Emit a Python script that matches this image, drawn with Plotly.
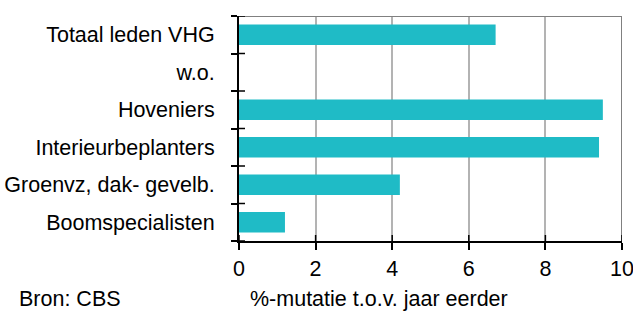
import plotly.graph_objects as go

categories = ["Totaal leden VHG", "w.o.", "Hoveniers", "Interieurbeplanters",
              "Groenvz, dak- gevelb.", "Boomspecialisten"]
values = [6.7, None, 9.5, 9.4, 4.2, 1.2]
x_ticks = [0, 2, 4, 6, 8, 10]
x_title = "%-mutatie t.o.v. jaar eerder"
source = "Bron: CBS"

FONT = "Liberation Sans, Arial, sans-serif"
FS = 21.5
W, H = 633, 312
L, R, T, B = 239, 11, 16, 71
pw = W - L - R
ph = H - T - B

n = len(categories)
y_pos = list(range(n))
bounds = [i - 0.5 for i in range(n + 1)]
x_min, x_max = x_ticks[0], x_ticks[-1]
y_top, y_bot = bounds[0], bounds[-1]

fig = go.Figure()
fig.add_trace(go.Bar(
    x=values, y=y_pos, orientation="h",
    marker=dict(color="#1FBBC6", line=dict(width=0)),
    width=0.55, hovertext=categories, hoverinfo="x+text",
))

# grey frame on top and right side of the plot area
fig.add_trace(go.Scatter(
    x=[x_min, x_max, x_max], y=[y_top, y_top, y_bot], mode="lines",
    line=dict(color="#808080", width=2), cliponaxis=False,
    hoverinfo="skip", showlegend=False,
))

# inner halves of the crossing tick marks
dy = 6 / ph * (y_bot - y_top)
dx = 6 / pw * (x_max - x_min)
tx, ty = [], []
for v in x_ticks:
    tx += [v, v, None]
    ty += [y_bot, y_bot - dy, None]
for b in bounds:
    tx += [x_min, x_min + dx, None]
    ty += [b, b, None]
fig.add_trace(go.Scatter(
    x=tx, y=ty, mode="lines", line=dict(color="black", width=1.5),
    cliponaxis=False, hoverinfo="skip", showlegend=False,
))

fig.update_layout(
    width=W, height=H,
    margin=dict(l=L, r=R, t=T, b=B, pad=0, autoexpand=False),
    paper_bgcolor="white", plot_bgcolor="white",
    font=dict(family=FONT, size=FS, color="black"),
    showlegend=False,
    xaxis=dict(
        range=[x_min, x_max], tickvals=x_ticks, ticks="outside", ticklen=7,
        tickwidth=1.5, tickcolor="black",
        showline=True, linecolor="black", linewidth=2,
        showgrid=True, gridcolor="#b3b3b3", gridwidth=2,
        zeroline=False, ticklabelstandoff=0,
        ticklabeloverflow="allow",
        tickfont=dict(size=FS, family=FONT, color="black"),
    ),
    yaxis=dict(
        range=[y_bot, y_top], tickvals=y_pos, ticktext=categories,
        ticks="outside", ticklen=6, tickcolor="rgba(0,0,0,0)",
        minor=dict(tickvals=bounds, ticks="outside", ticklen=6,
                   tickwidth=1.5, tickcolor="black", showgrid=False),
        showline=True, linecolor="black", linewidth=2,
        showgrid=False, zeroline=False, ticklabelstandoff=12,
        tickfont=dict(size=FS, family=FONT, color="black"),
    ),
    annotations=[
        dict(text=x_title, xref="paper", yref="paper",
             x=(248 - L) / pw, y=(ph + T - 299) / ph,
             xanchor="left", yanchor="middle", showarrow=False,
             font=dict(size=FS, family=FONT, color="black")),
        dict(text=source, xref="paper", yref="paper",
             x=(17 - L) / pw, y=(ph + T - 299) / ph,
             xanchor="left", yanchor="middle", showarrow=False,
             font=dict(size=FS, family=FONT, color="black")),
    ],
)

fig.write_html(
    "out.html",
    config={"displayModeBar": False},
    post_script="document.body.style.margin='0';document.body.style.overflow='hidden';",
)
